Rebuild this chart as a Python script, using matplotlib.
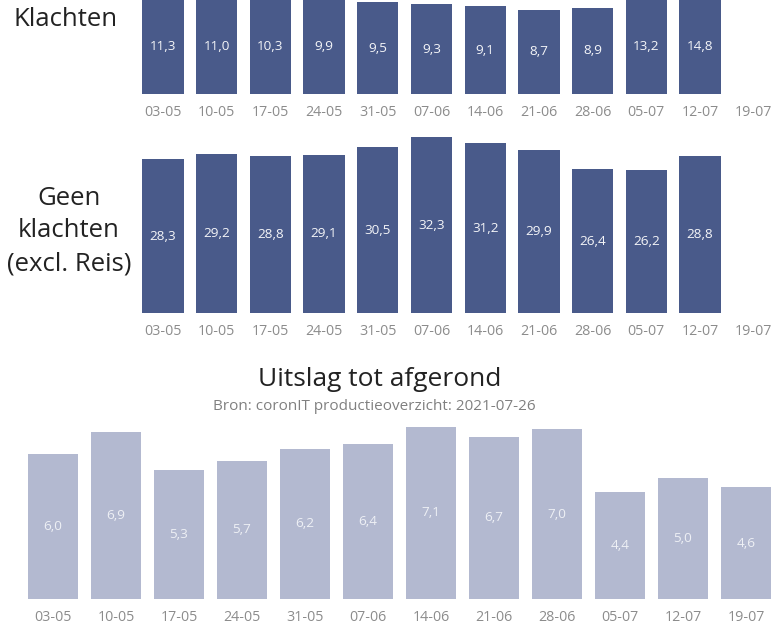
import matplotlib
matplotlib.use("Agg")
import matplotlib.pyplot as plt

plt.rcParams['font.family'] = ['Open Sans', 'DejaVu Sans']

weeks = ["03-05", "10-05", "17-05", "24-05", "31-05", "07-06",
         "14-06", "21-06", "28-06", "05-07", "12-07", "19-07"]

# Klachten (last week not available)
klachten = [11.3, 11.0, 10.3, 9.9, 9.5, 9.3, 9.1, 8.7, 8.9, 13.2, 14.8]
# Geen klachten (excl. Reis)
geen_klachten = [28.3, 29.2, 28.8, 29.1, 30.5, 32.3, 31.2, 29.9, 26.4, 26.2, 28.8]
# Uitslag tot afgerond
uitslag = [6.0, 6.9, 5.3, 5.7, 6.2, 6.4, 7.1, 6.7, 7.0, 4.4, 5.0, 4.6]

dark = "#495a8a"
light = "#b3b9d0"
tick_col = "#8c8c8c"

W, H = 778, 625
fig = plt.figure(figsize=(W / 100, H / 100), dpi=100)


def px_axes(left, right, top, bottom):
    return fig.add_axes([left / W, 1 - bottom / H, (right - left) / W, (bottom - top) / H])


def style(ax, labels):
    for s in ax.spines.values():
        s.set_visible(False)
    ax.set_yticks([])
    ax.set_xticks(range(len(labels)))
    ax.set_xticklabels(labels, fontsize=10.3, color=tick_col)
    ax.tick_params(axis="x", length=0, pad=8)
    ax.set_xlim(-0.5, len(labels) - 0.5)


def fmt(v):
    return f"{v:.1f}".replace(".", ",")


# top panel: Klachten (cut off at the top)
slot1 = 53.7
ax1 = px_axes(163 - slot1 / 2, 163 + slot1 * 11.5, 0, 94)
b1 = ax1.bar(range(len(klachten)), klachten, width=0.77, color=dark)
ax1.bar_label(b1, labels=[fmt(v) for v in klachten], label_type="center",
              color="#f4f5f8", fontsize=9.7)
ax1.set_ylim(0, 94 / 9.67)
style(ax1, weeks)
fig.text(66 / W, 1 - 20 / H, "Klachten", fontsize=18.5, ha="center", va="center", color="#222222")

# middle panel: Geen klachten
ax2 = px_axes(163 - slot1 / 2, 163 + slot1 * 11.5, 130, 313)
b2 = ax2.bar(range(len(geen_klachten)), geen_klachten, width=0.77, color=dark)
ax2.bar_label(b2, labels=[fmt(v) for v in geen_klachten], label_type="center",
              color="#f4f5f8", fontsize=9.7)
ax2.set_ylim(0, 183 / 5.44)
style(ax2, weeks)
fig.text(69 / W, 1 - 231 / H, "Geen\nklachten\n(excl. Reis)", fontsize=18.5, ha="center",
         va="center", color="#222222", linespacing=1.4)

# bottom panel: Uitslag tot afgerond
slot3 = 63.0
ax3 = px_axes(53 - slot3 / 2, 53 + slot3 * 11.5, 420, 599)
b3 = ax3.bar(range(len(uitslag)), uitslag, width=0.79, color=light)
ax3.bar_label(b3, labels=[fmt(v) for v in uitslag], label_type="center",
              color="#eef0f5", fontsize=9.7)
ax3.set_ylim(0, 179 / 24.25)
style(ax3, weeks)

fig.text(380 / W, 1 - 380 / H, "Uitslag tot afgerond", fontsize=19, ha="center",
         va="center", color="#222222")
fig.text(374 / W, 1 - 407 / H, "Bron: coronIT productieoverzicht: 2021-07-26", fontsize=11,
         ha="center", va="center", color="#808080")

fig.savefig("out.png", dpi=100, facecolor="white")
